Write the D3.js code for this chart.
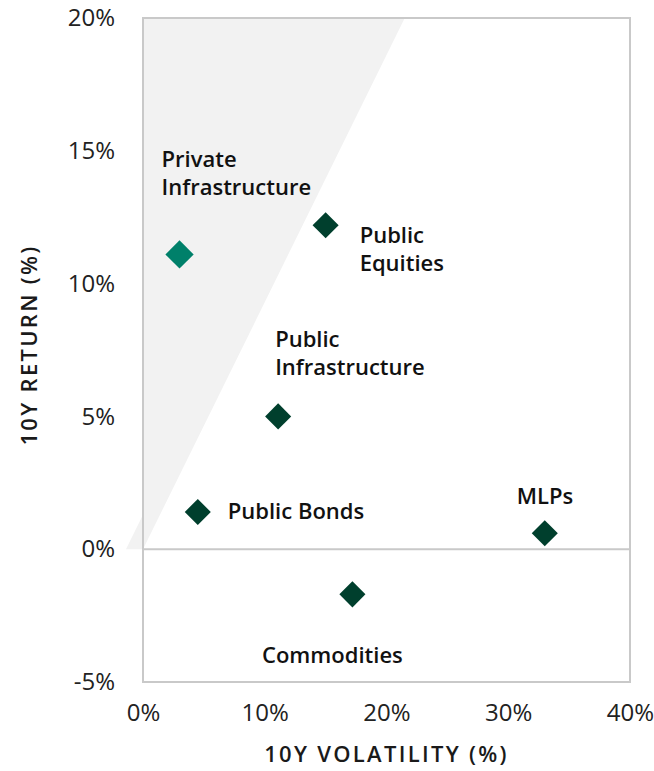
<!DOCTYPE html>
<html>
<head>
<meta charset="utf-8">
<script src="https://cdn.jsdelivr.net/npm/d3@7"></script>
<style>
  body { margin: 0; background: #fff; }
  text { font-family: 'Open Sans', sans-serif; }
</style>
</head>
<body>
<div id="chart"></div>
<script>
// data
const assets = ['Private Infrastructure', 'Public Equities', 'Public Infrastructure', 'Public Bonds', 'MLPs', 'Commodities'];
const volatility = [3.0, 15.0, 11.1, 4.5, 33.0, 17.2];
const returns = [11.1, 12.2, 5.0, 1.4, 0.6, -1.7];
const xTicks = [0, 10, 20, 30, 40];
const yTicks = [-5, 0, 5, 10, 15, 20];
// shaded "efficient" zone, in data units
const shadeZone = [[0, 20], [21.5, 20], [0, 0], [-1.4, 0], [0, 1.3]];

// label placement (pixels, relative to the marker)
const labelPos = {
  'Private Infrastructure': {dx: -18, dy: -87, lines: ['Private', 'Infrastructure'], anchor: 'start'},
  'Public Equities': {dx: 34, dy: 18, lines: ['Public', 'Equities'], anchor: 'start'},
  'Public Infrastructure': {dx: -3, dy: -69, lines: ['Public', 'Infrastructure'], anchor: 'start'},
  'Public Bonds': {dx: 30, dy: 7, lines: ['Public Bonds'], anchor: 'start'},
  'MLPs': {dx: -28, dy: -29, lines: ['MLPs'], anchor: 'start'},
  'Commodities': {dx: -20, dy: 69, lines: ['Commodities'], anchor: 'middle'}
};

const W = 654, H = 771;
const margin = {top: 18, right: 24, bottom: 89, left: 143};
const width = W - margin.left - margin.right;
const height = H - margin.top - margin.bottom;

const svg = d3.select('#chart').append('svg')
    .attr('width', W)
    .attr('height', H);
const g = svg.append('g')
    .attr('transform', 'translate(' + margin.left + ',' + margin.top + ')');

const x = d3.scaleLinear().domain([0, 40]).range([0, width]);
const y = d3.scaleLinear().domain([-5, 20]).range([height, 0]);

// shaded zone
g.append('path')
    .attr('d', d3.line().x(d => x(d[0])).y(d => y(d[1]))(shadeZone) + 'Z')
    .attr('fill', '#f2f2f2');

// plot frame
g.append('rect')
    .attr('width', width)
    .attr('height', height)
    .attr('fill', 'none')
    .attr('stroke', '#c9c9c9')
    .attr('stroke-width', 2);

// zero line
g.append('line')
    .attr('x1', 0).attr('x2', width)
    .attr('y1', y(0)).attr('y2', y(0))
    .attr('stroke', '#c9c9c9')
    .attr('stroke-width', 2);

// axes (labels only)
const xAxis = g.append('g')
    .attr('transform', 'translate(0,' + height + ')')
    .call(d3.axisBottom(x).tickValues(xTicks).tickSize(0).tickPadding(22).tickFormat(d => d + '%'));
const yAxis = g.append('g')
    .call(d3.axisLeft(y).tickValues(yTicks).tickSize(0).tickPadding(28).tickFormat(d => d + '%'));
[xAxis, yAxis].forEach(a => {
    a.select('.domain').remove();
    a.selectAll('text')
        .style('font-family', "'Open Sans', sans-serif")
        .style('font-size', '24px')
        .attr('fill', '#222');
});

// axis titles
svg.append('text')
    .attr('x', margin.left + width / 2)
    .attr('y', H - 9)
    .attr('text-anchor', 'middle')
    .style('font-size', '22px')
    .style('font-weight', 600)
    .style('letter-spacing', '2.3px')
    .attr('fill', '#1a1a1a')
    .text('10Y VOLATILITY (%)');
svg.append('text')
    .attr('transform', 'translate(37,' + (margin.top + height / 2 - 5) + ') rotate(-90)')
    .attr('text-anchor', 'middle')
    .style('font-size', '22px')
    .style('font-weight', 600)
    .style('letter-spacing', '2.3px')
    .attr('fill', '#1a1a1a')
    .text('10Y RETURN (%)');

// markers
const data = assets.map((a, i) => ({name: a, vol: volatility[i], ret: returns[i]}));
const diamond = d3.symbol().type(d3.symbolSquare);
g.selectAll('.pt')
    .data(data)
    .enter().append('path')
    .attr('class', 'pt')
    .attr('d', d => diamond.size(d.name === 'Private Infrastructure' ? 400 : 340)())
    .attr('transform', d => 'translate(' + x(d.vol) + ',' + y(d.ret) + ') rotate(45)')
    .attr('fill', d => d.name === 'Private Infrastructure' ? '#00806a' : '#003f2d');

// labels
const labels = g.selectAll('.lbl')
    .data(data)
    .enter().append('text')
    .attr('class', 'lbl')
    .attr('x', d => x(d.vol) + labelPos[d.name].dx)
    .attr('y', d => y(d.ret) + labelPos[d.name].dy)
    .attr('text-anchor', d => labelPos[d.name].anchor)
    .style('font-size', '22px')
    .style('font-weight', 600)
    .attr('fill', '#111');
labels.selectAll('tspan')
    .data(d => labelPos[d.name].lines.map(l => ({l, x: x(d.vol) + labelPos[d.name].dx})))
    .enter().append('tspan')
    .attr('x', t => t.x)
    .attr('dy', (t, i) => i ? 28 : 0)
    .text(t => t.l);
</script>
</body>
</html>
